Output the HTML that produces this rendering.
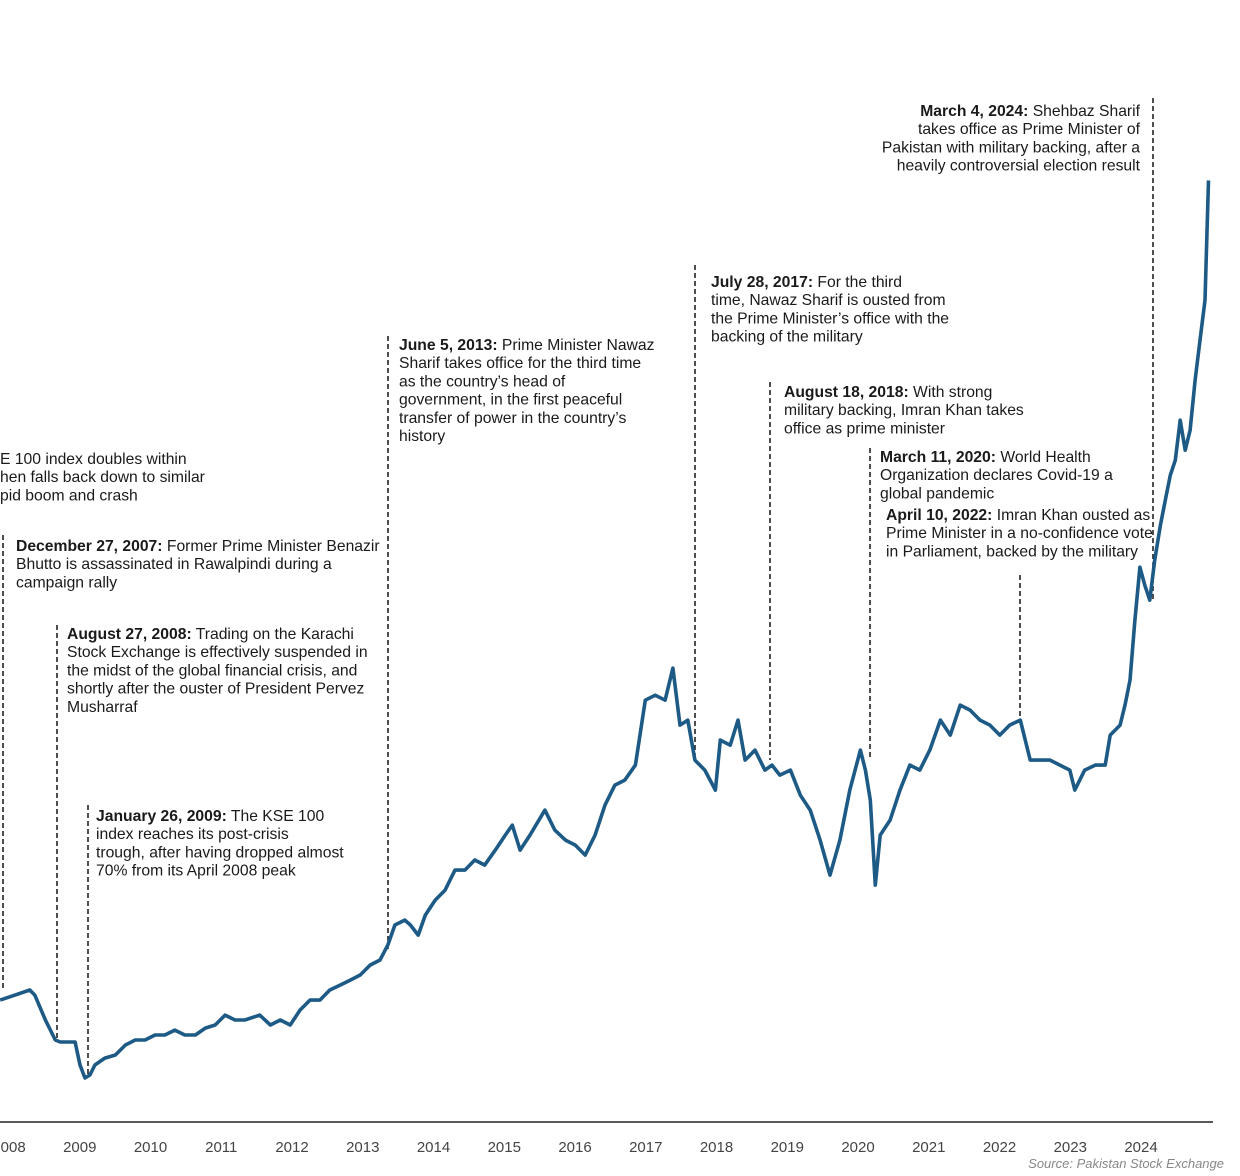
<!DOCTYPE html>
<html><head><meta charset="utf-8"><style>
html,body{margin:0;padding:0;background:#fff;}
svg{display:block;font-family:"Liberation Sans",Arial,sans-serif;}
.ann{font-size:15.7px;fill:#1a1a1a;}
.ann tspan.b{font-weight:bold;}
.tick{font-size:15px;fill:#444;text-anchor:middle;}
</style></head><body>
<svg id="chart" width="1240" height="1176" viewBox="0 0 1240 1176">
<g id="ann"></g>
<path id="line" fill="none" stroke="#1d5a85" stroke-width="3.6" stroke-linejoin="round"/>
<line x1="0" y1="1122" x2="1213" y2="1122" stroke="#222" stroke-width="1.5"/>
<g id="ticks"></g>
<text x="1224" y="1168" text-anchor="end" font-size="13" font-style="italic" fill="#888">Source: Pakistan Stock Exchange</text>
</svg>
<script>
const years=[2008,2009,2010,2011,2012,2013,2014,2015,2016,2017,2018,2019,2020,2021,2022,2023,2024];
const dates=[2007.86,2008.07,2008.28,2008.35,2008.50,2008.64,2008.71,2008.92,2008.99,2009.06,2009.13,2009.20,2009.34,2009.49,2009.63,2009.77,2009.91,2010.05,2010.19,2010.33,2010.47,2010.62,2010.76,2010.90,2011.04,2011.18,2011.32,2011.53,2011.68,2011.82,2011.96,2012.10,2012.24,2012.38,2012.52,2012.67,2012.81,2012.95,2013.09,2013.23,2013.34,2013.44,2013.58,2013.66,2013.77,2013.87,2014.01,2014.15,2014.29,2014.43,2014.57,2014.71,2014.86,2015.00,2015.10,2015.21,2015.35,2015.56,2015.70,2015.85,2015.99,2016.13,2016.27,2016.41,2016.55,2016.69,2016.84,2016.98,2017.12,2017.26,2017.37,2017.47,2017.58,2017.68,2017.82,2017.97,2018.04,2018.18,2018.29,2018.39,2018.53,2018.67,2018.77,2018.88,2019.03,2019.17,2019.31,2019.45,2019.59,2019.73,2019.87,2020.02,2020.09,2020.16,2020.23,2020.30,2020.44,2020.58,2020.72,2020.86,2021.00,2021.15,2021.29,2021.43,2021.57,2021.71,2021.85,2021.99,2022.13,2022.28,2022.42,2022.56,2022.70,2022.84,2022.98,2023.05,2023.19,2023.34,2023.48,2023.55,2023.69,2023.76,2023.83,2023.90,2023.97,2024.04,2024.11,2024.18,2024.26,2024.33,2024.40,2024.47,2024.54,2024.61,2024.68,2024.75,2024.82,2024.89,2024.94];
const values=[13.98,14.55,15.13,14.55,11.69,9.40,9.17,9.17,6.53,5.04,5.39,6.53,7.33,7.68,8.82,9.40,9.40,9.97,9.97,10.54,9.97,9.97,10.77,11.12,12.26,11.69,11.69,12.26,11.12,11.69,11.12,12.84,13.98,13.98,15.13,15.70,16.27,16.85,17.99,18.57,20.28,22.58,23.15,22.58,21.43,23.72,25.44,26.59,28.88,28.88,30.03,29.45,31.17,32.89,34.04,31.17,32.89,35.76,33.46,32.32,31.74,30.60,32.89,36.33,38.62,39.19,40.91,48.36,48.93,48.36,52.03,45.50,46.07,41.49,40.34,38.05,43.78,43.20,46.07,41.49,42.63,40.34,40.91,39.77,40.34,37.47,35.76,32.32,28.31,32.32,38.05,42.63,40.34,36.90,27.16,32.89,34.61,38.05,40.91,40.34,42.63,46.07,44.35,47.79,47.22,46.07,45.50,44.35,45.50,46.07,41.49,41.49,41.49,40.91,40.34,38.05,40.34,40.91,40.91,44.35,45.50,47.79,50.65,57.53,63.60,61.54,59.82,64.41,68.42,71.28,74.15,75.87,80.45,77.01,79.30,85.03,89.62,94.20,107.95];
const NS="http://www.w3.org/2000/svg";
function xs(t){return 10+(t-2008)*70.75;}
function ys(v){return 1122-v*8.723;}
let d="";
for(let i=0;i<dates.length;i++){d+=(i?"L":"M")+xs(dates[i]).toFixed(1)+","+ys(values[i]).toFixed(1);}
document.getElementById('line').setAttribute('d',d);
const tg=document.getElementById('ticks');
years.forEach(y=>{const t=document.createElementNS(NS,'text');
t.setAttribute('x',xs(y)-1);t.setAttribute('y',1152);t.setAttribute('class','tick');


t.textContent=y;tg.appendChild(t);});
const anns=[
 {x:3,y1:535,y2:990},
 {x:57,y1:625,y2:1040},
 {x:88,y1:805,y2:1075},
 {x:388,y1:336,y2:950},
 {x:695,y1:265,y2:760},
 {x:770,y1:382,y2:760},
 {x:870,y1:448,y2:760},
 {x:1020,y1:575,y2:718},
 {x:1153,y1:98,y2:600}
];
const ag=document.getElementById('ann');
anns.forEach((a,i)=>{const l=document.createElementNS(NS,'line');
l.setAttribute('x1',a.x);l.setAttribute('x2',a.x);l.setAttribute('y1',a.y1);l.setAttribute('y2',a.y2);
l.setAttribute('stroke','#222');l.setAttribute('stroke-width','1.6');l.setAttribute('stroke-dasharray','5,3');


ag.appendChild(l);});
const texts=[
 {x:0,y:464,anchor:'start',b:'',lines:['E 100 index doubles within','hen falls back down to similar','pid boom and crash']},
 {x:16,y:551,anchor:'start',b:'December 27, 2007:',lines:[' Former Prime Minister Benazir','Bhutto is assassinated in Rawalpindi during a','campaign rally']},
 {x:67,y:639,anchor:'start',b:'August 27, 2008:',lines:[' Trading on the Karachi','Stock Exchange is effectively suspended in','the midst of the global financial crisis, and','shortly after the ouster of President Pervez','Musharraf']},
 {x:96,y:821,anchor:'start',b:'January 26, 2009:',lines:[' The KSE 100','index reaches its post-crisis','trough, after having dropped almost','70% from its April 2008 peak']},
 {x:399,y:350,anchor:'start',b:'June 5, 2013:',lines:[' Prime Minister Nawaz','Sharif takes office for the third time','as the country\u2019s head of','government, in the first peaceful','transfer of power in the country\u2019s','history']},
 {x:711,y:287,anchor:'start',b:'July 28, 2017:',lines:[' For the third','time, Nawaz Sharif is ousted from','the Prime Minister\u2019s office with the','backing of the military']},
 {x:784,y:397,anchor:'start',b:'August 18, 2018:',lines:[' With strong','military backing, Imran Khan takes','office as prime minister']},
 {x:880,y:462,anchor:'start',b:'March 11, 2020:',lines:[' World Health','Organization declares Covid-19 a','global pandemic']},
 {x:886,y:520,anchor:'start',b:'April 10, 2022:',lines:[' Imran Khan ousted as','Prime Minister in a no-confidence vote','in Parliament, backed by the military']},
 {x:1140,y:116,anchor:'end',b:'March 4, 2024:',lines:[' Shehbaz Sharif','takes office as Prime Minister of','Pakistan with military backing, after a','heavily controversial election result']}
];
texts.forEach((t,i)=>{const g=document.createElementNS(NS,'text');
g.setAttribute('class','ann');g.setAttribute('text-anchor',t.anchor);


t.lines.forEach((ln,j)=>{
 if(j===0){const s=document.createElementNS(NS,'tspan');s.setAttribute('x',t.x);s.setAttribute('y',t.y);
  if(t.b){const b=document.createElementNS(NS,'tspan');b.setAttribute('class','b');b.textContent=t.b;s.appendChild(b);}
  s.appendChild(document.createTextNode(ln));g.appendChild(s);}
 else{const s=document.createElementNS(NS,'tspan');s.setAttribute('x',t.x);s.setAttribute('y',t.y+j*18.2);s.textContent=ln;g.appendChild(s);}
});
ag.appendChild(g);});
</script>
</body></html>
